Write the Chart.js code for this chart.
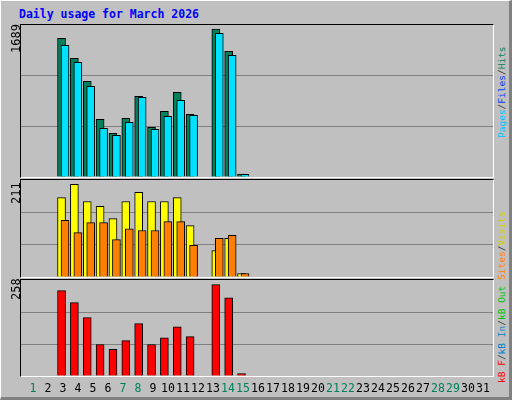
<!DOCTYPE html>
<html><head><meta charset="utf-8">
<script src="https://cdn.jsdelivr.net/npm/chart.js@4/dist/chart.umd.min.js"></script>
<style>
body{margin:0;width:512px;height:400px;overflow:hidden}
#frame{position:absolute;left:0;top:0;width:508px;height:396px;background:#c0c0c0;border-top:1px solid #fff;border-left:1px solid #fff;border-right:3px solid #808080;border-bottom:3px solid #808080}
.panel{position:absolute;left:20px;width:472px;border-top:1px solid #000;border-left:1px solid #000;border-bottom:1px solid #fff;border-right:1px solid #fff}
.t{position:absolute;font-family:"DejaVu Sans Mono",monospace;font-size:11px;white-space:nowrap;line-height:1}
.rot{transform-origin:left top;transform:rotate(-90deg)}
</style></head><body>
<div id="frame"></div>
<div class="t" style="left:19px;top:9px;color:#0000ff;font-weight:bold;font-size:11.5px">Daily usage for March 2026</div>
<div class="panel" style="top:24px;height:152px"><canvas id="c1"></canvas></div>
<div class="panel" style="top:179px;height:97px"><canvas id="c2"></canvas></div>
<div class="panel" style="top:279px;height:96px"><canvas id="c3"></canvas></div>
<div class="t rot" style="left:10px;top:53px;font-size:12px">1689</div>
<div class="t rot" style="left:10px;top:204px;font-size:12px">211</div>
<div class="t rot" style="left:10px;top:300px;font-size:12px">258</div>
<div class="t rot" style="left:497px;top:138px;font-size:9.5px"><span style="color:#00c0ff">Pages</span><span style="color:#404040">/</span><span style="color:#0040ff">Files</span><span style="color:#404040">/</span><span style="color:#00805c">Hits</span></div>
<div class="t rot" style="left:497px;top:383px;font-size:9.5px"><span style="color:#ff0000">kB F</span><span style="color:#404040">/</span><span style="color:#0080c0">kB In</span><span style="color:#404040">/</span><span style="color:#00c000">kB Out</span> <span style="color:#ff8000">Sites</span><span style="color:#404040">/</span><span style="color:#d0d000">Visits</span></div>
<div id="xl"></div>
<script>
const days = Array.from({length: 31}, (_, i) => i + 1);
const weekend = [1, 7, 8, 14, 15, 21, 22, 28, 29];
const hits   = [1583,1354,1092,658,498,670,921,567,750,966,715,0,1689,1434,34,0,0,0,0,0,0,0,0,0,0,0,0,0,0,0,0];
const files  = [1503,1309,1035,556,476,624,909,544,693,875,704,0,1640,1389,30,0,0,0,0,0,0,0,0,0,0,0,0,0,0,0,0];
const visits = [181,211,172,161,133,172,193,172,172,181,117,0,60,88,8,0,0,0,0,0,0,0,0,0,0,0,0,0,0,0,0];
const sites  = [129,101,124,124,85,110,106,106,126,126,72,0,88,95,8,0,0,0,0,0,0,0,0,0,0,0,0,0,0,0,0];
const kbytes = [241,207,165,89,75,100,148,89,108,139,111,0,258,221,7,0,0,0,0,0,0,0,0,0,0,0,0,0,0,0,0];

// day d is centred at 33 + 15(d-1) px on the page; panels start at x=21
const XMIN = 0.2, XMAX = XMIN + 472 / 15;

function pts(vals, shift) {
  return vals.map((v, i) => ({x: days[i] + shift, y: v})).filter(p => p.y > 0);
}
function ds(vals, shift, color, order) {
  return {data: pts(vals, shift), backgroundColor: color, borderColor: '#000', borderWidth: 1,
    borderSkipped: 'bottom', barThickness: 8, grouped: false, order: order};
}
function makeChart(id, sets, max) {
  new Chart(document.getElementById(id), {
    type: 'bar',
    data: {datasets: sets},
    options: {
      responsive: true, maintainAspectRatio: false, animation: false,
      layout: {padding: 0},
      plugins: {legend: {display: false}, tooltip: {enabled: false}},
      scales: {
        x: {type: 'linear', min: XMIN, max: XMAX, display: false},
        y: {min: 0, max: max, border: {display: false},
          afterFit: ax => { ax.width = 0; },
          afterBuildTicks: ax => { ax.ticks = [0, 1, 2, 3].map(k => ({value: max * k / 3})); },
          grid: {color: ctx => (ctx.index === 1 || ctx.index === 2) ? '#808080' : 'rgba(0,0,0,0)', lineWidth: 1, drawTicks: false},
          ticks: {display: false, padding: 0}}
      }
    }
  });
}
makeChart('c1', [ds(hits, -0.27, '#00805c', 2), ds(files, 0, '#00e0ff', 1)], 1735);
makeChart('c2', [ds(visits, -0.27, '#ffff00', 2), ds(sites, 0, '#ff8000', 1)], 221);
makeChart('c3', [ds(kbytes, -0.27, '#ff0000', 1)], 271);

const xl = document.getElementById('xl');
days.forEach(d => {
  const s = document.createElement('div');
  s.className = 't';
  s.style.cssText = `left:${33 + 15 * (d - 1)}px;top:383px;transform:translateX(-50%);font-size:11.5px;color:${weekend.includes(d) ? '#00805c' : '#000'}`;
  s.textContent = d;
  xl.appendChild(s);
});
</script>
</body></html>
